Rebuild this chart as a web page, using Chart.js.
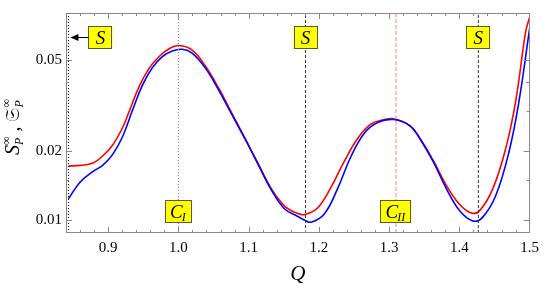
<!DOCTYPE html>
<html>
<head>
<meta charset="utf-8">
<script src="https://cdn.jsdelivr.net/npm/chart.js@4.4.1/dist/chart.umd.min.js"></script>
<style>
  body { margin: 0; background: #fff; }
  #wrap { width: 545px; height: 289px; }
</style>
</head>
<body>
<div id="wrap"><canvas id="myChart"></canvas></div>
<script>
// red curve
const qRed = [0.8435, 0.86, 0.8785, 0.8926, 0.9067, 0.9208, 0.9303, 0.9444, 0.9585, 0.9726, 0.9867, 1.0008,
  1.0196, 1.0384, 1.0572, 1.076, 1.0949, 1.1136, 1.1324, 1.1513, 1.170, 1.180, 1.1982, 1.217, 1.2359,
  1.2547, 1.2734, 1.2923, 1.3064, 1.3298, 1.344, 1.3628, 1.3816, 1.4004, 1.4169, 1.4286, 1.4475, 1.4662,
  1.4803, 1.4944, 1.5];
const sRed = [0.01722, 0.01735, 0.01777, 0.0191, 0.02134, 0.02543, 0.0300, 0.0384, 0.0460, 0.0517, 0.0559, 0.0577,
  0.0551, 0.0470, 0.0377, 0.0293, 0.02274, 0.01765, 0.0137, 0.01153, 0.01069, 0.01059, 0.01131, 0.01387, 0.0180,
  0.02259, 0.02617, 0.02739, 0.02769, 0.02579, 0.02274, 0.01822, 0.01416, 0.01171, 0.01076, 0.01099, 0.0137, 0.02068,
  0.03322, 0.0665, 0.0766];
// blue curve
const qBlue = [0.8435, 0.8597, 0.8785, 0.8926, 0.9067, 0.9208, 0.9349, 0.949, 0.9631, 0.9772, 0.9913, 1.0054,
  1.0196, 1.0384, 1.0572, 1.076, 1.0949, 1.1136, 1.1324, 1.1513, 1.170, 1.180, 1.1889, 1.2077, 1.2265,
  1.2452, 1.2641, 1.2829, 1.3064, 1.3298, 1.344, 1.3628, 1.3816, 1.4004, 1.4192, 1.4333, 1.4521, 1.4709,
  1.485, 1.4983, 1.5];
const sBlue = [0.0124, 0.01461, 0.01632, 0.01738, 0.01941, 0.02324, 0.0303, 0.03888, 0.04628, 0.0517, 0.0547, 0.0556,
  0.0535, 0.0460, 0.0370, 0.0289, 0.0226, 0.01749, 0.01354, 0.0112, 0.01039, 0.0100, 0.00981, 0.01066, 0.0137,
  0.01882, 0.02384, 0.02661, 0.02749, 0.02579, 0.0226, 0.0180, 0.0137, 0.01099, 0.00993, 0.01032, 0.01288, 0.02003,
  0.03322, 0.063, 0.0685];

const sLines = [0.8435, 1.181, 1.427];
const cLines = [1.0, 1.3097];
const cNames = ['I', 'II'];

const xTicks = [0.9, 1.0, 1.1, 1.2, 1.3, 1.4, 1.5];
const yTicks = [0.01, 0.02, 0.05];
const yMinor = [0.015, 0.03, 0.04];

const X_MIN = 0.84, X_MAX = 1.5, Y_MIN = 0.0088, Y_MAX = 0.08;
const SERIF = "'Liberation Serif', 'DejaVu Serif', serif";

function pts(xs, ys) { return xs.map((v, i) => ({x: v, y: ys[i]})); }
function vline(v) { return [{x: v, y: Y_MIN}, {x: v, y: Y_MAX}]; }

const datasets = [];
sLines.forEach((v, i) => datasets.push({
  data: vline(v), borderColor: i === 0 ? '#000' : '#333', borderWidth: 1,
  borderDash: i === 0 ? [1, 2] : [3, 2], pointRadius: 0
}));
datasets.push({data: vline(cLines[0]), borderColor: '#b060d0', borderWidth: 1, borderDash: [1, 2], pointRadius: 0});
datasets.push({data: vline(cLines[1]), borderColor: '#ff8080', borderWidth: 1, borderDash: [4, 2], pointRadius: 0});
datasets.push({label: 'blue', data: pts(qBlue, sBlue), borderColor: '#0000ff', borderWidth: 1.6,
  pointRadius: 0, tension: 0.4});
datasets.push({label: 'red', data: pts(qRed, sRed), borderColor: '#ff0000', borderWidth: 1.6,
  pointRadius: 0, tension: 0.4});

function box(ctx, cx, cy, w, h) {
  ctx.fillStyle = '#ffff00';
  ctx.fillRect(cx - w / 2, cy - h / 2, w, h);
  ctx.strokeStyle = '#5a5a30';
  ctx.lineWidth = 1;
  ctx.strokeRect(Math.round(cx - w / 2) + 0.5, Math.round(cy - h / 2) + 0.5, w - 1, h - 1);
}

const decor = {
  id: 'decor',
  afterDatasetsDraw(chart) {
    const {ctx, chartArea: a, scales: {x}} = chart;
    ctx.save();
    ctx.textBaseline = 'alphabetic';
    // S labels at top
    sLines.forEach((v, i) => {
      const lx = x.getPixelForValue(v);
      const cx = i === 0 ? lx + 32 : lx;
      const cy = a.top + 24.5;
      box(ctx, cx, cy, 24, 23);
      ctx.fillStyle = '#000';
      ctx.font = 'italic 19px ' + SERIF;
      ctx.textAlign = 'center';
      ctx.fillText('S', cx, cy + 6.5);
      if (i === 0) {
        ctx.strokeStyle = '#000';
        ctx.lineWidth = 1;
        ctx.beginPath();
        ctx.moveTo(cx - 12, cy);
        ctx.lineTo(lx + 8, cy);
        ctx.stroke();
        ctx.beginPath();
        ctx.moveTo(lx + 2, cy);
        ctx.lineTo(lx + 10, cy - 3.5);
        ctx.lineTo(lx + 10, cy + 3.5);
        ctx.closePath();
        ctx.fillStyle = '#000';
        ctx.fill();
      }
    });
    // C labels at bottom
    cLines.forEach((v, i) => {
      const cx = x.getPixelForValue(v);
      const cy = a.bottom - 21.5;
      ctx.font = 'italic 19px ' + SERIF;
      const w1 = ctx.measureText('C').width;
      ctx.font = 'italic 12px ' + SERIF;
      const w2 = ctx.measureText(cNames[i]).width;
      box(ctx, cx, cy, Math.round(w1 + w2 + 10), 23);
      ctx.fillStyle = '#000';
      ctx.textAlign = 'left';
      const x0 = cx - (w1 + w2) / 2;
      ctx.font = 'italic 19px ' + SERIF;
      ctx.fillText('C', x0, cy + 6.5);
      ctx.font = 'italic 12px ' + SERIF;
      ctx.fillText(cNames[i], x0 + w1 - 1, cy + 9.5);
    });
    ctx.restore();
  },
  afterDraw(chart) {
    const {ctx, chartArea: a, scales: {x, y}} = chart;
    ctx.save();
    ctx.strokeStyle = '#888';
    ctx.lineWidth = 1;
    ctx.strokeRect(Math.round(a.left) + 0.5, Math.round(a.top) + 0.5,
      Math.round(a.right - a.left) - 1, Math.round(a.bottom - a.top) - 1);
    ctx.beginPath();
    for (let k = 42; k <= 75; k++) {
      const v = k / 50;
      const px = Math.round(x.getPixelForValue(v)) + 0.5;
      if (px <= a.left + 1 || px >= a.right - 1) continue;
      const len = (k % 5 === 0) ? 6 : 3;
      ctx.moveTo(px, a.bottom); ctx.lineTo(px, a.bottom - len);
      ctx.moveTo(px, a.top); ctx.lineTo(px, a.top + len);
    }
    yTicks.concat(yMinor).forEach(v => {
      const py = Math.round(y.getPixelForValue(v)) + 0.5;
      const len = yTicks.includes(v) ? 6 : 3;
      ctx.moveTo(a.left, py); ctx.lineTo(a.left + len, py);
      ctx.moveTo(a.right, py); ctx.lineTo(a.right - len, py);
    });
    ctx.stroke();

    // y title
    ctx.translate(19, (a.top + a.bottom) / 2 + 4);
    ctx.rotate(-Math.PI / 2);
    ctx.fillStyle = '#000';
    ctx.textAlign = 'left';
    const big = 'italic 20px ' + SERIF, small = '12px ' + SERIF, smallI = 'italic 12px ' + SERIF;
    const parts = [];
    function sym(main, font) {
      parts.push({t: main, f: font, dy: 0});
      parts.push({t: '\u221E', f: small, dy: -9, stack: true});
      parts.push({t: 'P', f: smallI, dy: 4, under: true});
    }
    sym('S', big);
    parts.push({t: ' , ', f: '20px ' + SERIF, dy: 0});
    sym('\uD835\uDD16', '20px ' + SERIF);
    let w = 0;
    const widths = parts.map(p => { ctx.font = p.f; return ctx.measureText(p.t).width; });
    for (let i = 0; i < parts.length; i++) {
      if (parts[i].stack) { w += Math.max(widths[i], widths[i + 1]); i++; } else w += widths[i];
    }
    let cx = -w / 2;
    for (let i = 0; i < parts.length; i++) {
      const p = parts[i];
      ctx.font = p.f;
      if (p.stack) {
        ctx.fillText(p.t, cx, p.dy);
        const q = parts[i + 1];
        ctx.font = q.f;
        ctx.fillText(q.t, cx, q.dy);
        cx += Math.max(widths[i], widths[i + 1]);
        i++;
      } else {
        ctx.fillText(p.t, cx, p.dy);
        cx += widths[i];
      }
    }
    ctx.restore();
  }
};

new Chart(document.getElementById('myChart'), {
  type: 'line',
  data: {datasets: datasets},
  options: {
    responsive: true,
    maintainAspectRatio: false,
    animation: false,
    layout: {padding: {top: 0, right: 11, left: 0, bottom: 0}},
    plugins: {legend: {display: false}, tooltip: {enabled: false}},
    scales: {
      x: {
        type: 'linear', min: X_MIN, max: X_MAX,
        grid: {display: false, drawTicks: false},
        border: {display: false},
        afterBuildTicks: s => { s.ticks = xTicks.map(v => ({value: v})); },
        afterFit: s => { s.height = 56; },
        ticks: {
          padding: 6, color: '#000', maxRotation: 0, autoSkip: false,
          font: {family: SERIF, size: 15},
          callback: v => Number(v).toFixed(1)
        },
        title: {display: true, text: 'Q', color: '#000', padding: {top: 0, bottom: 2},
          font: {family: SERIF, size: 21, style: 'italic'}}
      },
      y: {
        type: 'logarithmic', min: Y_MIN, max: Y_MAX,
        grid: {display: false, drawTicks: false},
        border: {display: false},
        afterBuildTicks: s => { s.ticks = yTicks.map(v => ({value: v})); },
        afterFit: s => { s.width = 66; },
        ticks: {
          padding: 4, color: '#000', autoSkip: false,
          font: {family: SERIF, size: 15},
          callback: v => Number(v).toFixed(2)
        }
      }
    }
  },
  plugins: [decor]
});
</script>
</body>
</html>
